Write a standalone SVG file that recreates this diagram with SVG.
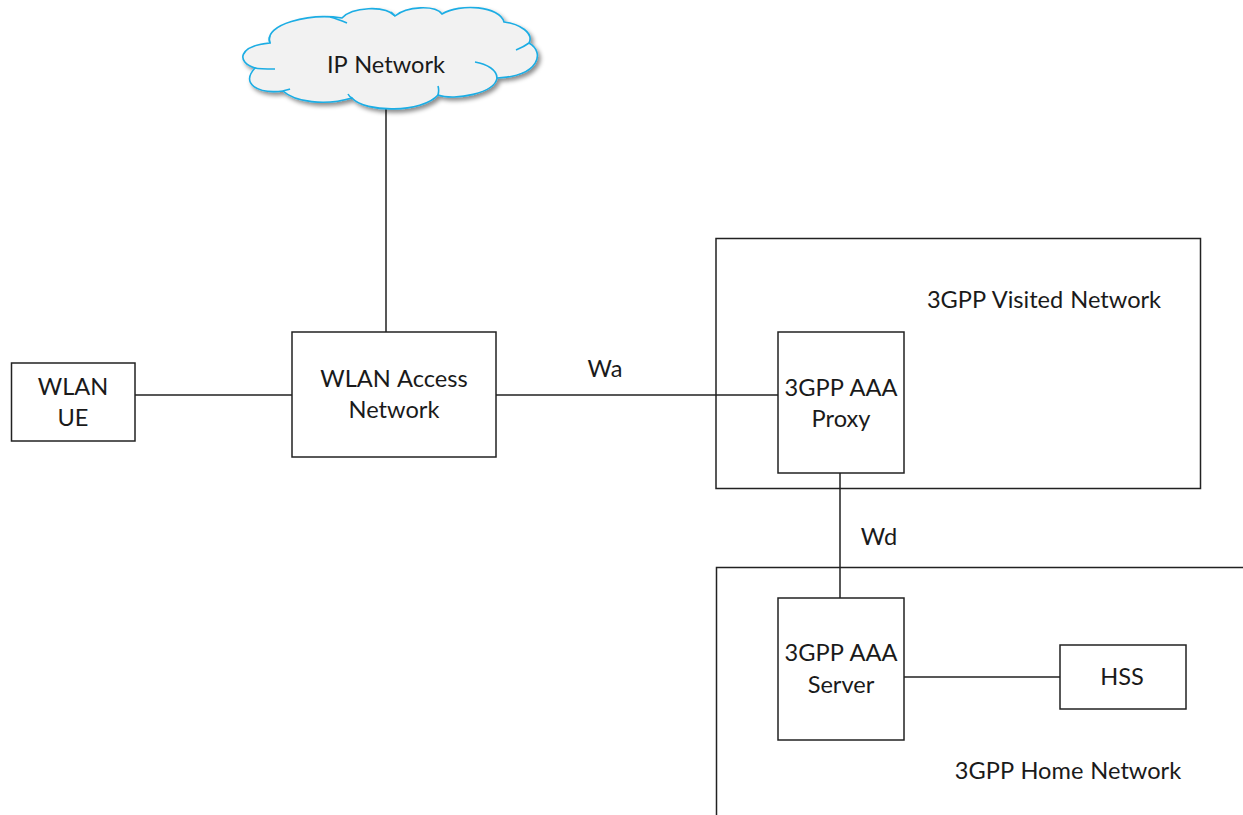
<svg xmlns="http://www.w3.org/2000/svg" width="1243" height="815" viewBox="0 0 1243 815">
<style>
.b{fill:#fff;stroke:#222;stroke-width:1.5}
.c{fill:none;stroke:#222;stroke-width:1.5}
.t{font-family:"Lato","Liberation Sans",sans-serif;font-size:23.600px;word-spacing:1px;fill:#1a1a1a;text-anchor:middle}
.cl{fill:#f2f2f2;stroke:#1cade4;stroke-width:1.6}
.cd{fill:none;stroke:#1cade4;stroke-width:1.6}
</style>
<defs><filter id="s" x="-10%" y="-20%" width="125%" height="150%"><feDropShadow dx="2.500" dy="3" stdDeviation="2" flood-color="#000" flood-opacity=".45"/></filter></defs>
<g id="connectors">
<path class="c" d="M386 108V332M135 395H292M496 395H778M840 473V598M904 677H1060"/>
</g>
<g id="visited"><rect class="b" x="716" y="238.500" width="484.500" height="250" style="fill:none"/><text class="t" x="1044" y="308">3GPP Visited Network</text></g>
<g id="home"><path class="c" d="M716.500 815V567.500H1243"/><text class="t" x="1068" y="779">3GPP Home Network</text></g>
<g id="cloud">
<path class="cl" filter="url(#s)" d="M270 43C263 24 310 13 342 18C352 7 385 5 395 16C407 6 435 5 442 14C460 3 500 6 504 22C520 24 534 33 529 43C545 52 540 76 497 78C495 93 455 101 438 95C422 113 365 113 352 98C325 106 295 102 283 91C258 94 240 84 255 68C236 62 238 46 270 43Z"/>
<path class="cd" d="M270 43C269 40 269 38 270 36M347 23C340 20 334 18 330 17M395 16C393 14 392 13 391 12M516 50C521 48 525 46 529 43M475 62C487 64 497 70 497 78M438 95C439 91 439 89 438 86M352 98C350 97 349 96 348 94M283 91C286 90 288 90 290 89M255 68C259 69 268 69 275 69"/>
<text class="t" x="386" y="73">IP Network</text></g>
<g id="wlan-ue"><rect class="b" x="11.500" y="363" width="123.500" height="78"/><text class="t" x="73" y="395">WLAN</text><text class="t" x="73" y="426">UE</text></g>
<g id="access"><rect class="b" x="292" y="332" width="204" height="125"/><text class="t" x="394" y="387">WLAN Access</text><text class="t" x="394" y="418">Network</text></g>
<g id="proxy"><rect class="b" x="778" y="332" width="126" height="141"/><text class="t" x="841" y="396">3GPP AAA</text><text class="t" x="841" y="427">Proxy</text></g>
<g id="server"><rect class="b" x="778" y="598" width="126" height="142"/><text class="t" x="841" y="661">3GPP AAA</text><text class="t" x="841" y="693">Server</text></g>
<g id="hss"><rect class="b" x="1060" y="645" width="126" height="64"/><text class="t" x="1122" y="685">HSS</text></g>
<text class="t" x="605" y="377">Wa</text>
<text class="t" x="879" y="545">Wd</text>
</svg>
